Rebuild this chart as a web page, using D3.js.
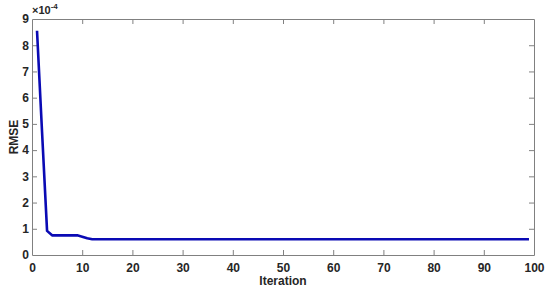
<!DOCTYPE html>
<html>
<head>
<meta charset="utf-8">
<script src="https://cdn.jsdelivr.net/npm/d3@7"></script>
<style>
  body { margin: 0; background: #fff; }
  text { font-family: "Liberation Sans", Arial, sans-serif; font-weight: bold; fill: #262626; }
</style>
</head>
<body>
<svg id="chart" width="550" height="291"></svg>
<script>
// values (RMSE in units of 1e-4)
const iterations = d3.range(1, 100);
const rmseStart = [8.55, 4.7, 0.92, 0.75, 0.75, 0.75, 0.75, 0.75, 0.75, 0.7, 0.64, 0.6];
const rmseTail = 0.6;
const rmse = iterations.map((it, i) => i < rmseStart.length ? rmseStart[i] : rmseTail);
const xTicks = [0, 10, 20, 30, 40, 50, 60, 70, 80, 90, 100];
const yTicks = [0, 1, 2, 3, 4, 5, 6, 7, 8, 9];

const svg = d3.select("#chart");
const margin = { left: 32, right: 16, top: 19, bottom: 36 };
const W = 550, H = 291;

const x = d3.scaleLinear().domain([0, 100]).range([margin.left, W - margin.right]);
const y = d3.scaleLinear().domain([0, 9]).range([H - margin.bottom, margin.top]);

const axisColor = "#808080";
const tickLen = 5;

// bottom axis with inner ticks
const gx = svg.append("g").attr("transform", `translate(0,${y(0)})`)
  .call(d3.axisBottom(x).tickValues(xTicks).tickSizeInner(-tickLen).tickSizeOuter(0).tickPadding(8));
// top ticks (box)
const gxt = svg.append("g").attr("transform", `translate(0,${y(9)})`)
  .call(d3.axisTop(x).tickValues(xTicks).tickSizeInner(-tickLen).tickSizeOuter(0).tickFormat(""));
// left axis
const gy = svg.append("g").attr("transform", `translate(${x(0)},0)`)
  .call(d3.axisLeft(y).tickValues(yTicks).tickSizeInner(-tickLen).tickSizeOuter(0).tickPadding(3));
// right ticks (box)
const gyr = svg.append("g").attr("transform", `translate(${x(100)},0)`)
  .call(d3.axisRight(y).tickValues(yTicks).tickSizeInner(-tickLen).tickSizeOuter(0).tickFormat(""));

[gx, gxt, gy, gyr].forEach(g => {
  g.selectAll("path, line").attr("stroke", axisColor).attr("stroke-width", 1);
  g.selectAll("text").attr("font-size", 12).attr("font-family", "Liberation Sans, Arial, sans-serif")
    .attr("font-weight", "bold").attr("fill", "#262626");
});
// the 0 and 100 ticks overlap box edges
gx.selectAll(".tick").filter(d => d === 0 || d === 100).select("line").remove();
gxt.selectAll(".tick").filter(d => d === 0 || d === 100).select("line").remove();
gy.selectAll(".tick").filter(d => d === 0 || d === 9).select("line").remove();
gyr.selectAll(".tick").filter(d => d === 0 || d === 9).select("line").remove();

// exponent label
const expo = svg.append("text").attr("x", x(0) + 0).attr("y", margin.top - 5)
  .attr("font-size", 11).attr("font-weight", "normal");
expo.append("tspan").text("\u00d710");
expo.append("tspan").attr("dy", -5).attr("font-size", 8).text("-4");

// line
const line = d3.line().x((d, i) => x(iterations[i])).y(d => y(d));
svg.append("path").datum(rmse)
  .attr("d", line)
  .attr("fill", "none")
  .attr("stroke", "#0a0ab4")
  .attr("stroke-width", 2.6)
  .attr("stroke-linejoin", "round");

// axis titles
svg.append("text").attr("x", (x(0) + x(100)) / 2).attr("y", 285)
  .attr("text-anchor", "middle").attr("font-size", 12).text("Iteration");
svg.append("text").attr("transform", `translate(18,${(y(0) + y(9)) / 2}) rotate(-90)`)
  .attr("text-anchor", "middle").attr("font-size", 12).text("RMSE");
</script>
</body>
</html>
